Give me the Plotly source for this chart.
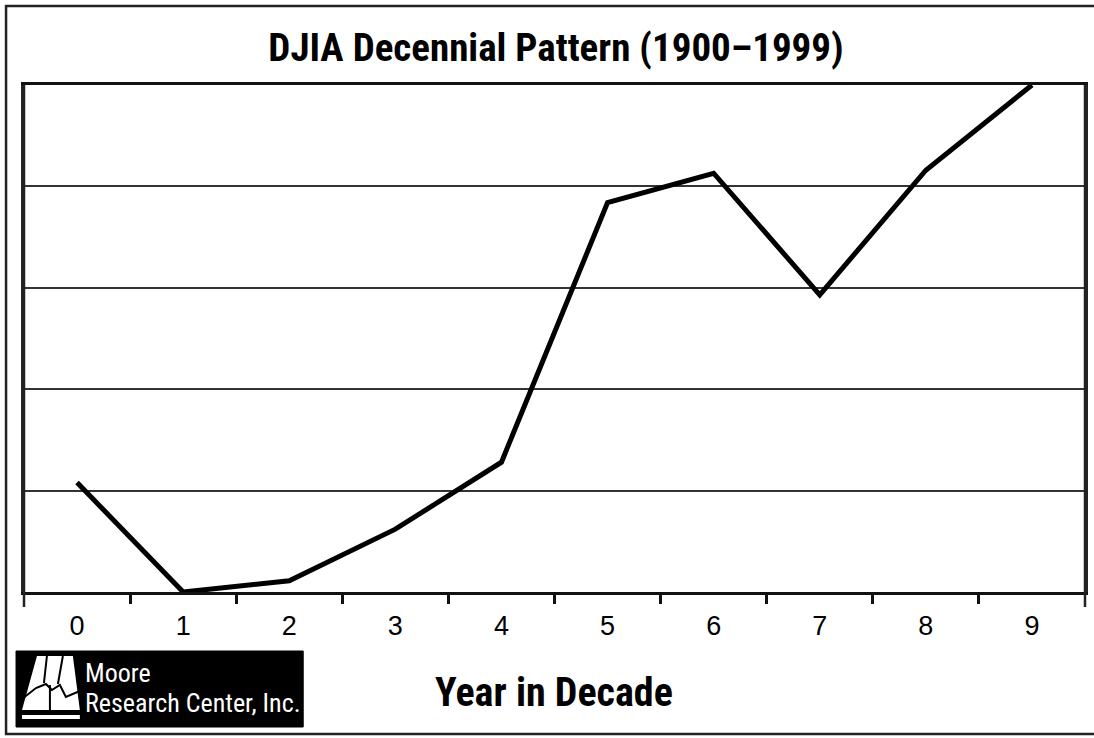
import plotly.graph_objects as go

# ---- data ----
years = [0, 1, 2, 3, 4, 5, 6, 7, 8, 9]
pattern = [1.08, 0.0, 0.11, 0.62, 1.28, 3.84, 4.13, 2.93, 4.16, 5.0]
tick_labels = [str(y) for y in years]
title_text = "DJIA Decennial Pattern (1900\u20131999)"
xaxis_title = "Year in Decade"
logo_line1 = "Moore"
logo_line2 = "Research Center, Inc."

W, H = 1094, 738
L, R, T, B = 24, 1088, 85, 592  # plot area in pixels

def px(x):
    return (x - L) / (R - L)

def py(y):
    return (B - y) / (B - T)

NARROW = "Liberation Sans Narrow, Arial Narrow, Roboto Condensed, Liberation Sans, Arial, sans-serif"

fig = go.Figure()
fig.add_trace(go.Scatter(
    x=years, y=pattern, mode="lines",
    line=dict(color="black", width=5),
    hoverinfo="skip", showlegend=False,
))

def path(points):
    return "M " + " L ".join(f"{px(a)},{py(b)}" for a, b in points) + " Z"

def line_path(points):
    return "M " + " L ".join(f"{px(a)},{py(b)}" for a, b in points)

shapes = []
# outer frame (left, top, bottom only)
shapes.append(dict(type="path", xref="paper", yref="paper",
                   path=line_path([(1100, 6), (6, 6), (6, 734), (1100, 734)]),
                   line=dict(color="#222", width=2.5), layer="below"))
# plot edge lines extending below axis
for xx in (L, R):
    shapes.append(dict(type="line", xref="paper", yref="paper",
                       x0=px(xx), x1=px(xx), y0=py(T), y1=py(607),
                       line=dict(color="#222", width=2.5)))
# logo box
shapes.append(dict(type="rect", xref="paper", yref="paper",
                   x0=px(16), x1=px(304), y0=py(727), y1=py(651),
                   fillcolor="black", line=dict(color="black", width=1)))
# logo icon: white trapezoid
shapes.append(dict(type="path", xref="paper", yref="paper",
                   path=path([(37, 656), (73, 656), (80, 710), (22, 710)]),
                   fillcolor="white", line=dict(color="white", width=0)))
# white bar
shapes.append(dict(type="rect", xref="paper", yref="paper",
                   x0=px(22), x1=px(80), y0=py(719), y1=py(715),
                   fillcolor="white", line=dict(color="white", width=0)))
# black lines in icon
for pts in [
    [(22, 699), (36, 688), (46, 684), (52, 690), (60, 685), (66, 697), (80, 691)],
    [(47, 656), (44, 683)],
    [(63, 656), (58, 684)],
    [(50, 685), (50, 710)],
]:
    shapes.append(dict(type="path", xref="paper", yref="paper",
                       path=line_path(pts),
                       line=dict(color="black", width=2)))

annotations = [
    dict(text=xaxis_title, xref="paper", yref="paper", x=px(555), y=py(692),
         xanchor="center", yanchor="middle", showarrow=False,
         font=dict(family=NARROW, size=40, color="black", weight="bold")),
    dict(text=logo_line1, xref="paper", yref="paper", x=px(83), y=py(673),
         xanchor="left", yanchor="middle", showarrow=False,
         font=dict(family=NARROW, size=26, color="white")),
    dict(text=logo_line2, xref="paper", yref="paper", x=px(83), y=py(703),
         xanchor="left", yanchor="middle", showarrow=False,
         font=dict(family=NARROW, size=26, color="white")),
]

fig.update_layout(
    width=W, height=H,
    margin=dict(l=L, r=W - R, t=T, b=H - B, pad=0),
    paper_bgcolor="white", plot_bgcolor="white",
    title=dict(text=title_text, x=556 / W, xanchor="center",
               y=1 - 47 / H, yanchor="middle", yref="container", xref="container",
               font=dict(family=NARROW, size=39, color="black", weight="bold")),
    shapes=shapes,
    annotations=annotations,
    showlegend=False,
)

fig.update_xaxes(
    range=[-0.5, 9.5], tickmode="array", tickvals=years, ticktext=tick_labels,
    ticks="", showgrid=False, zeroline=False,
    showline=True, mirror=True, linecolor="#111", linewidth=2.5,
    tickfont=dict(family="Liberation Sans, Arial, sans-serif", size=27, color="black"),
    ticklabelstandoff=8,
    minor=dict(tickmode="array", tickvals=[v + 0.5 for v in years[:-1]],
               ticks="outside", ticklen=9, tickwidth=2.5, tickcolor="#111", showgrid=False),
)
fig.update_yaxes(
    range=[0, 5], showticklabels=False, ticks="",
    showgrid=True, gridcolor="#333", gridwidth=2, dtick=1,
    zeroline=False, showline=True, mirror=True, linecolor="#222", linewidth=2.5,
)

fig.write_html(
    "out.html",
    config={"displayModeBar": False},
    post_script="document.body.style.margin='0';document.body.style.overflow='hidden';",
)
